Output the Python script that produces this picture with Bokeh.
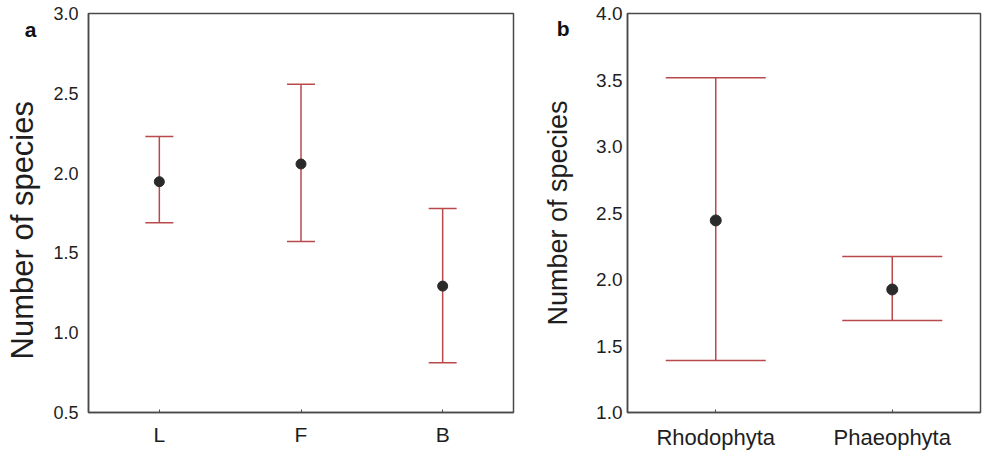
from bokeh.plotting import figure
from bokeh.layouts import row
from bokeh.models import (Range1d, FactorRange, Whisker, ColumnDataSource, FixedTicker,
                          PrintfTickFormatter, TeeHead, LinearAxis)
from bokeh.embed import file_html
from bokeh.resources import INLINE

# Panel a data
groups_a = ["L", "F", "B"]
mean_a = [1.946, 2.057, 1.292]
lower_a = [1.689, 1.572, 0.812]
upper_a = [2.229, 2.557, 1.778]
yticks_a = [0.5, 1.0, 1.5, 2.0, 2.5, 3.0]

# Panel b data
groups_b = ["Rhodophyta", "Phaeophyta"]
mean_b = [2.444, 1.925]
lower_b = [1.391, 1.692]
upper_b = [3.517, 2.173]
yticks_b = [1.0, 1.5, 2.0, 2.5, 3.0, 3.5, 4.0]

YLABEL = "Number of species"

RED = "#b94a4c"
DOT = "#2a2a2a"
FRAME = "#4a4a4a"
TXT = "#1e1e1e"
FONT = "Liberation Sans"


def make_panel(groups, mean, lower, upper, yticks, width, left, right, top, bottom, cap,
               ytick_size, xtick_size, ylabel_size, tick_standoff, letter_standoff,
               label_standoff, letter, letter_y, dot_size, xstandoff, label_pad):
    src = ColumnDataSource(dict(x=groups, m=mean, lo=lower, hi=upper))
    p = figure(width=width, height=452, x_range=FactorRange(*groups, range_padding=0),
               y_range=Range1d(yticks[0], yticks[-1]), output_backend="svg",
               toolbar_location=None, min_border_left=left, min_border_right=right,
               min_border_top=top, min_border_bottom=bottom)
    p.xgrid.visible = False
    p.ygrid.visible = False
    p.outline_line_color = FRAME
    p.outline_line_width = 1.5
    p.outline_line_alpha = 1.0

    w = Whisker(base="x", upper="hi", lower="lo", source=src, line_color=RED, line_width=1.5,
                upper_head=TeeHead(size=cap, line_color=RED, line_width=1.5),
                lower_head=TeeHead(size=cap, line_color=RED, line_width=1.5))
    p.add_layout(w)
    p.scatter("x", "m", source=src, size=dot_size, color=DOT)

    # main y axis: tick labels only
    p.yaxis.ticker = FixedTicker(ticks=yticks)
    p.yaxis.formatter = PrintfTickFormatter(format="%.1f")
    p.yaxis.major_label_standoff = tick_standoff
    p.yaxis.major_tick_in = 0
    p.yaxis.major_tick_out = 0
    p.yaxis.minor_tick_in = 0
    p.yaxis.minor_tick_out = 0

    for ax in (p.xaxis, p.yaxis):
        ax.axis_line_color = FRAME
        ax.axis_line_width = 1.5
        ax.major_label_text_font = FONT
        ax.major_label_text_color = TXT
        ax.major_tick_line_color = FRAME
    p.yaxis.major_label_text_font_size = f"{ytick_size}px"
    p.xaxis.major_label_text_font_size = f"{xtick_size}px"
    p.xaxis.major_tick_in = 3
    p.xaxis.major_tick_out = 0
    p.xaxis.major_label_standoff = xstandoff

    # outer axis: panel letter + axis title
    outer = LinearAxis(ticker=FixedTicker(ticks=[letter_y]),
                       major_label_overrides={letter_y: letter},
                       axis_line_color=None, major_tick_line_color=None,
                       minor_tick_line_color=None, major_tick_in=0, major_tick_out=0,
                       major_label_standoff=letter_standoff,
                       major_label_text_font=FONT, major_label_text_font_style="bold",
                       major_label_text_font_size="21px", major_label_text_color="#111111",
                       axis_label=YLABEL + "\u00a0" * label_pad, axis_label_text_font=FONT,
                       axis_label_text_font_style="normal",
                       axis_label_text_font_size=f"{ylabel_size}px",
                       axis_label_text_color=TXT, axis_label_standoff=label_standoff)
    p.add_layout(outer, "left")
    return p


pa = make_panel(groups_a, mean_a, lower_a, upper_a, yticks_a, 520, 88, 7, 13, 38, 28,
                18, 21, 31, 10, 14, -18, "a", 2.9, 10, 10, 4)
pb = make_panel(groups_b, mean_b, lower_b, upper_b, yticks_b, 462, 107, 2, 12, 40, 100,
                19, 22, 27, 5, 24, -19, "b", 3.89, 11, 12, 0)

layout = row(pa, pb, spacing=0)
open("out.html", "w").write(file_html(layout, INLINE))
